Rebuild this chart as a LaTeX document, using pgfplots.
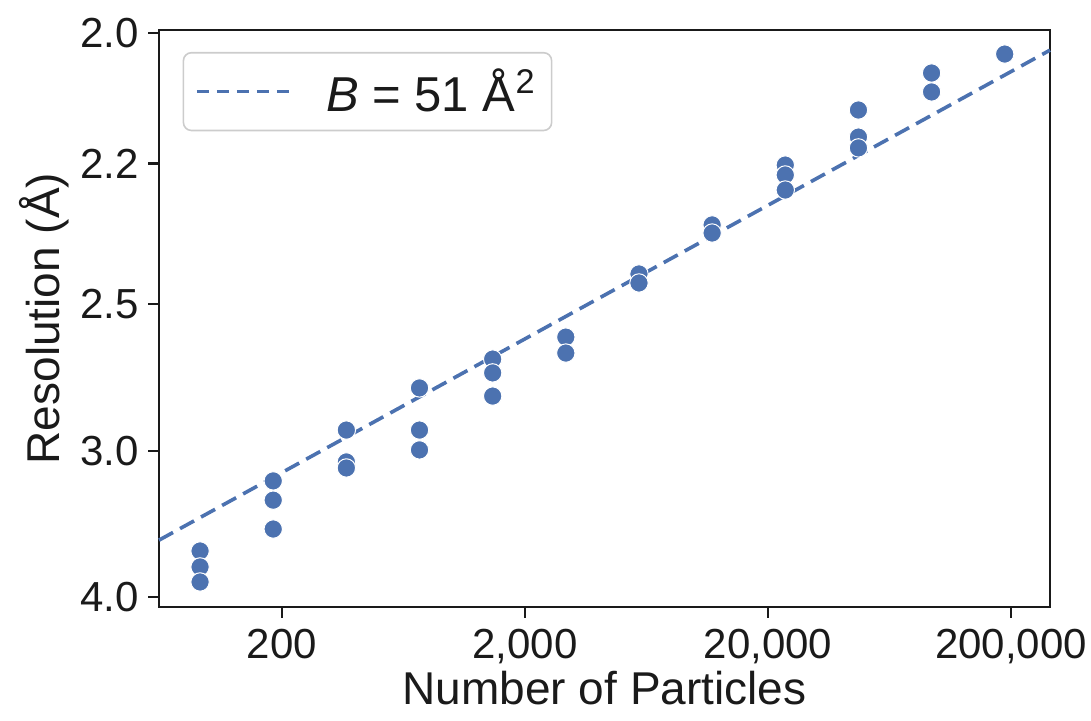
\documentclass[border=0pt]{standalone}
\usepackage{fontspec}
\setmainfont{Liberation Sans}
\usepackage{pgfplots}
\pgfplotsset{compat=1.18}
\definecolor{sbblue}{HTML}{4C72B0}
\definecolor{txt}{HTML}{1A1A1A}
\begin{document}
\begin{tikzpicture}
\begin{axis}[
  scale only axis,
  width=445.5pt, height=288.5pt,
  xmode=log, log basis x=10,
  xmin=62.35, xmax=289400,
  ymin=0.05918, ymax=0.251,
  xtick={200,2000,20000,200000},
  xticklabels={200,{2,000},{20,000},{200,000}},
  minor xtick={},
  ytick={0.25,0.206612,0.16,0.111111,0.0625},
  yticklabels={2.0,2.2,2.5,3.0,4.0},
  tick align=outside,
  xtick pos=bottom, ytick pos=left,
  major tick length=5.5pt,
  every tick/.style={txt, line width=1.1pt},
  axis line style={txt, line width=1.3pt},
  ticklabel style={font=\fontsize{21}{24}\selectfont, text=txt},
  xticklabel style={yshift=-2pt},
  yticklabel style={xshift=-1pt},
  label style={font=\fontsize{23}{26}\selectfont, text=txt},
  xlabel={Number of Particles},
  ylabel={Resolution (Å)},
  xlabel style={yshift=3pt},
  ylabel style={yshift=-1pt},
  legend style={at={(0.0265,0.962)}, anchor=north west, draw=black!20, line width=0.8pt, rounded corners=4pt,
    font=\fontsize{24.5}{28}\selectfont, text=txt, inner xsep=6pt, inner ysep=6pt},
  legend cell align=left,
  legend image code/.code={\draw[#1, line width=1.4pt, dash pattern=on 6pt off 4pt] (0pt,0pt) -- (48pt,0pt);},
  clip=false,
]
\addplot[sbblue, line width=1.8pt, dash pattern=on 8pt off 4pt] coordinates {(62.35,0.0814) (289400,0.2443)};
\addlegendentry{\hspace{14pt}\textit{B} = 51 Å\textsuperscript{2}}
\addplot[only marks, mark=*, mark size=4.6pt, mark options={fill=sbblue, draw=white, line width=0.5pt}, forget plot] coordinates {
(92,0.0778) (92,0.0725) (92,0.0675)
(184,0.1011) (184,0.0947) (184,0.0851)
(368,0.1180) (368,0.1074) (368,0.1054)
(736,0.1320) (736,0.1180) (736,0.1114)
(1472,0.1416) (1472,0.1370) (1472,0.1293)
(2944,0.1489) (2944,0.1436)
(5888,0.1699) (5888,0.1669)
(11776,0.1862) (11776,0.1835)
(23552,0.2061) (23552,0.2028) (23552,0.1978)
(47104,0.2244) (47104,0.2154) (47104,0.2118)
(94208,0.2367) (94208,0.2304)
(188416,0.2430)
};
\end{axis}
\pgfresetboundingbox
\path[use as bounding box] ([shift={(-79.5pt,-57pt)}]current axis.south west) rectangle ([shift={(466pt,303.5pt)}]current axis.south west);
\end{tikzpicture}
\end{document}
